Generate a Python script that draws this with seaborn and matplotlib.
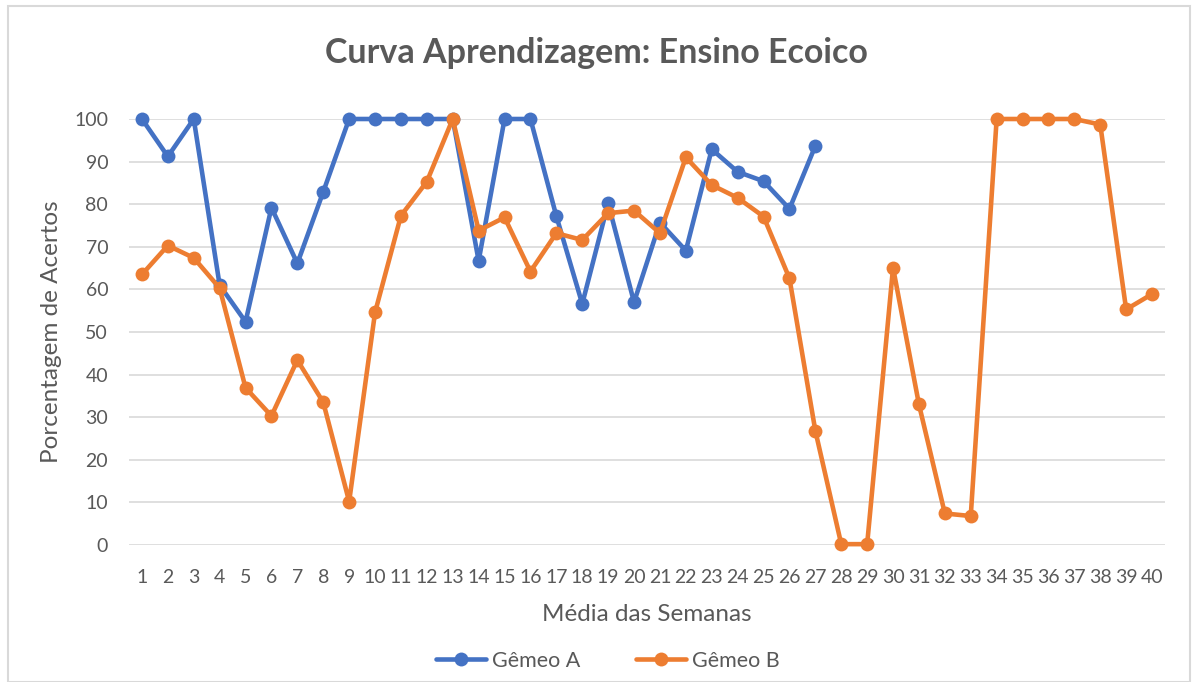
import numpy as np
import pandas as pd
import matplotlib
matplotlib.use("Agg")
import matplotlib.pyplot as plt
import seaborn as sns
from matplotlib.patches import Rectangle
from matplotlib.lines import Line2D

# ---- data ----
weeks_a = list(range(1, 28))
gemeo_a = [100, 91.2, 100, 61.0, 52.4, 79.2, 66.1, 82.9, 100, 100,
           100, 100, 100, 66.7, 100, 100, 77.2, 56.6, 80.2, 57.0,
           75.7, 69.1, 92.9, 87.6, 85.4, 78.9, 93.7]
weeks_b = list(range(1, 41))
gemeo_b = [63.5, 70.3, 67.4, 60.3, 36.9, 30.3, 43.4, 33.5, 10.2, 54.6,
           77.3, 85.3, 100, 73.8, 76.9, 64.2, 73.2, 71.6, 77.9, 78.5,
           73.2, 91.0, 84.5, 81.5, 77.1, 62.6, 26.8, 0.2, 0.2, 65.1,
           33.0, 7.4, 6.8, 100, 100, 100, 100, 98.7, 55.3, 58.9]
series_names = ["Gêmeo A", "Gêmeo B"]
x_ticks = list(range(1, 41))
y_ticks = list(range(0, 101, 10))

title = "Curva Aprendizagem: Ensino Ecoico"
x_label = "Média das Semanas"
y_label = "Porcentagem de Acertos"

df = pd.concat([
    pd.DataFrame({"Semana": weeks_a, "Valor": gemeo_a, "Série": series_names[0]}),
    pd.DataFrame({"Semana": weeks_b, "Valor": gemeo_b, "Série": series_names[1]}),
], ignore_index=True)

# ---- style ----
sns.set_theme(style="white")
plt.rcParams["font.family"] = ["Lato", "DejaVu Sans"]
text_col = "#595959"
grid_col = "#D9D9D9"
palette = {series_names[0]: "#4472C4", series_names[1]: "#ED7D31"}

fig = plt.figure(figsize=(11.92, 6.82), dpi=100)
ax = fig.add_axes([129 / 1192, 1 - 545 / 682, (1165 - 129) / 1192, (545 - 119) / 682])

sns.lineplot(data=df, x="Semana", y="Valor", hue="Série", palette=palette,
             marker="o", markersize=10, markeredgewidth=0, linewidth=3.3,
             ax=ax, legend=False, clip_on=False, sort=False)

ax.set_xlim(0.5, 40.5)
ax.set_ylim(0, 100)
ax.set_xticks(x_ticks)
ax.set_xticklabels([str(t) for t in x_ticks])
ax.set_yticks(y_ticks)
ax.yaxis.grid(True, color=grid_col, linewidth=1.2)
ax.xaxis.grid(False)
ax.set_axisbelow(True)
for s in ax.spines.values():
    s.set_visible(False)
ax.tick_params(axis="both", length=0, labelsize=14, colors=text_col)
ax.tick_params(axis="x", pad=17)
ax.tick_params(axis="y", pad=15)

ax.set_xlabel(x_label, fontsize=17.5, color=text_col, labelpad=13)
ax.set_ylabel(y_label, fontsize=17.5, color=text_col, labelpad=9)
fig.text(0.5, 1 - 53 / 682, title, ha="center", va="center",
         fontsize=24.5, fontweight="bold", color=text_col)

# legend
handles = [Line2D([0], [0], color=palette[n], lw=3.3, marker="o", markersize=10,
                  markeredgewidth=0) for n in series_names]
fig.legend(handles, series_names, loc="center", bbox_to_anchor=(608 / 1192, 1 - 661 / 682),
           ncol=2, frameon=False, fontsize=15.5, handlelength=2.3, columnspacing=2.6,
           handletextpad=0.3, labelcolor=text_col)

# chart border
fig.patches.append(Rectangle((8 / 1192, 0.0), 1 - 10 / 1192, 1 - 6 / 682,
                             transform=fig.transFigure, fill=False,
                             edgecolor=grid_col, linewidth=1.5))

fig.savefig("out.png", dpi=100, facecolor="white")
